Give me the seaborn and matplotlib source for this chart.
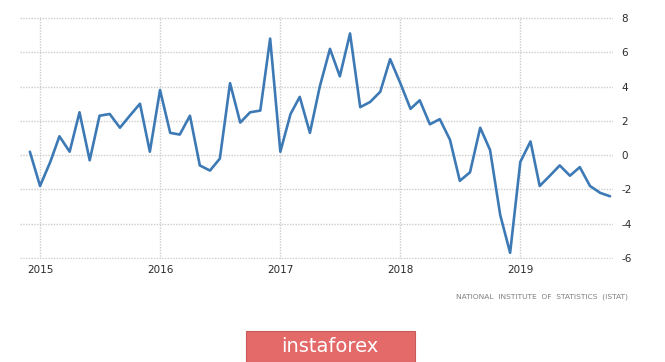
import numpy as np
import pandas as pd
import matplotlib
matplotlib.use("Agg")
import matplotlib.pyplot as plt
import matplotlib.dates as mdates
from matplotlib.patches import Rectangle
import seaborn as sns

# monthly values, Dec 2014 - Oct 2019
months = pd.date_range("2014-12-01", "2019-10-01", freq="MS")
values = [0.2,
          -1.8, -0.4, 1.1, 0.2, 2.5, -0.3, 2.3, 2.4, 1.6, 2.3, 3.0, 0.2,
          3.8, 1.3, 1.2, 2.3, -0.6, -0.9, -0.2, 4.2, 1.9, 2.5, 2.6, 6.8,
          0.2, 2.4, 3.4, 1.3, 4.0, 6.2, 4.6, 7.1, 2.8, 3.1, 3.7, 5.6,
          4.2, 2.7, 3.2, 1.8, 2.1, 0.9, -1.5, -1.0, 1.6, 0.3, -3.5, -5.7,
          -0.4, 0.8, -1.8, -1.2, -0.6, -1.2, -0.7, -1.8, -2.2, -2.4]
year_ticks = ["2015", "2016", "2017", "2018", "2019"]
y_ticks = [8, 6, 4, 2, 0, -2, -4, -6]

df = pd.DataFrame({"date": months, "value": values})

sns.set_style("white")
plt.rcParams['font.family'] = ['DejaVu Sans']

fig = plt.figure(figsize=(6.65, 3.62), dpi=100)
ax = fig.add_axes([20/665, 1 - 259/362, (613 - 20)/665, (259 - 17)/362])

sns.lineplot(data=df, x="date", y="value", ax=ax, color="#3d7ab5", linewidth=1.9)

ax.set_ylim(-6.06, 8.06)
ax.set_xlim(pd.Timestamp("2014-11-01"), pd.Timestamp("2019-10-10"))
ax.set_yticks(y_ticks)
ax.set_yticklabels([str(v) for v in y_ticks])
ax.set_xticks([pd.Timestamp(y + "-01-01") for y in year_ticks])
ax.set_xticklabels(year_ticks)
ax.yaxis.tick_right()
ax.tick_params(axis="both", length=0, labelsize=7.5, colors="#2b2b2b")
ax.tick_params(axis="y", pad=6)
ax.tick_params(axis="x", pad=4)
ax.grid(True, color="#cccccc", linestyle=(0, (1, 1)), linewidth=1.0)
for s in ax.spines.values():
    s.set_visible(False)
ax.set_xlabel("")
ax.set_ylabel("")

fig.text(628/665, 1 - 297/362, "NATIONAL  INSTITUTE  OF  STATISTICS  (ISTAT)",
         ha="right", va="center", fontsize=5.4, color="#808080")

# logo banner
fig.patches.append(Rectangle((246/665, 0), (415 - 246)/665, (362 - 331)/362,
                             transform=fig.transFigure, facecolor="#e46a6a",
                             edgecolor="#c95a5a", linewidth=0.8))
fig.text(330/665, 1 - 347/362, "instaforex", ha="center", va="center",
         fontsize=14, color="white")

fig.savefig("out.png", dpi=100)
